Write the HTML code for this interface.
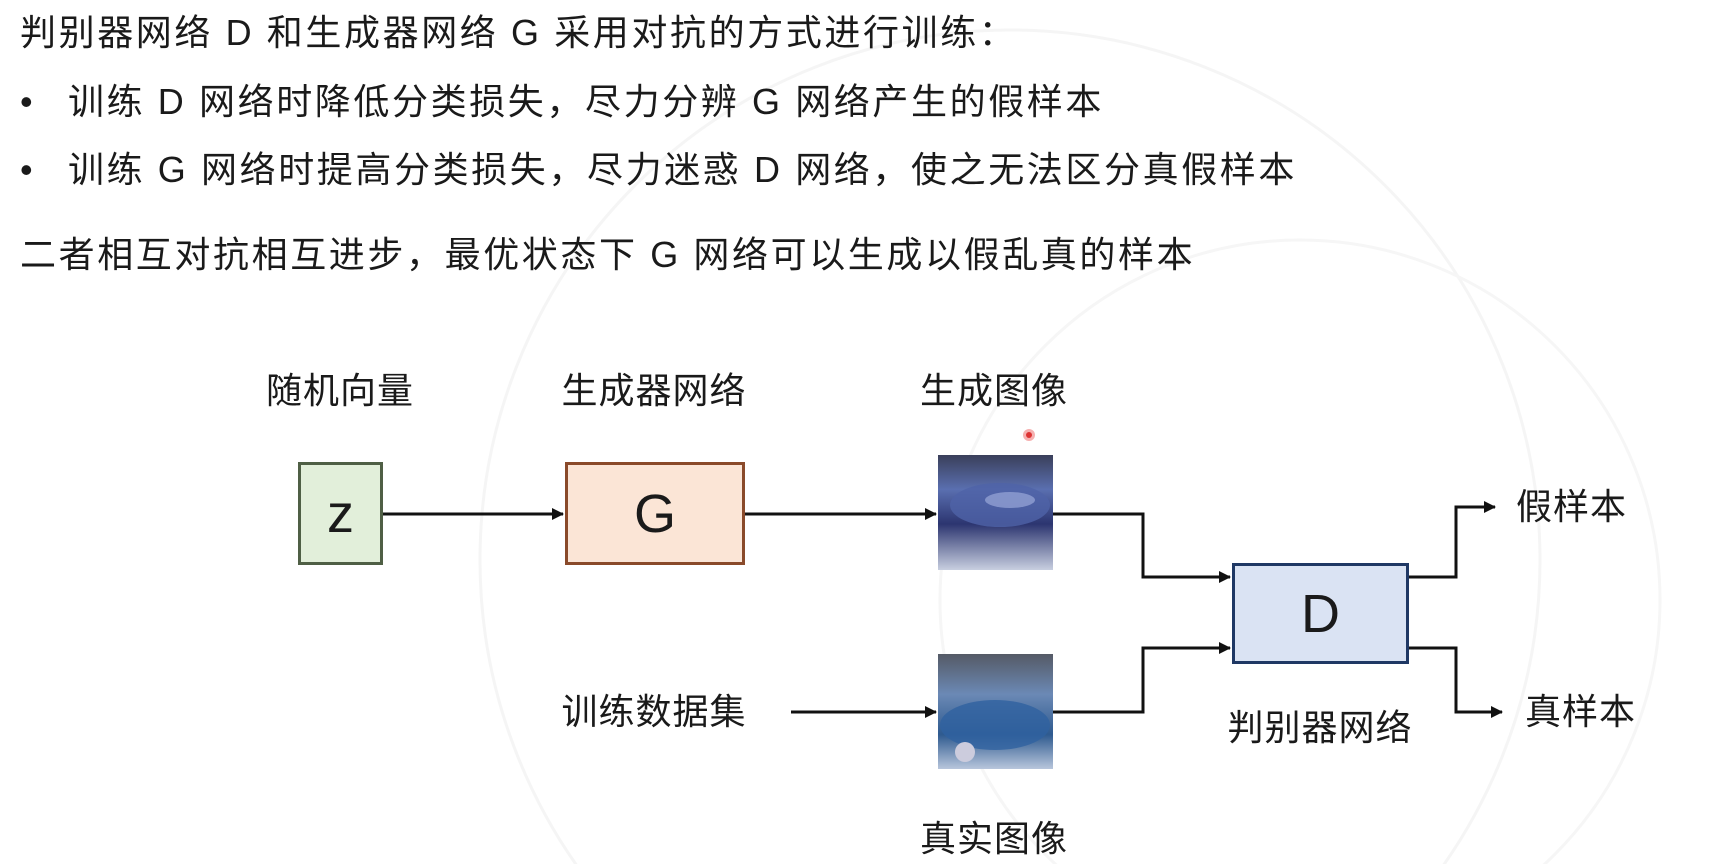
<!DOCTYPE html>
<html><head><meta charset="utf-8">
<style>
html,body{margin:0;padding:0;}
body{width:1716px;height:864px;background:#fff;position:relative;overflow:hidden;font-family:"Liberation Sans","Noto Sans CJK SC",sans-serif;color:#1a1a1a;}
.t{position:absolute;font-size:36px;line-height:40px;white-space:nowrap;letter-spacing:2.6px;}
.l{position:absolute;font-size:36px;line-height:40px;white-space:nowrap;transform:translateX(-50%);letter-spacing:1px;}
.box{position:absolute;box-sizing:border-box;border:3px solid;display:flex;align-items:center;justify-content:center;font-size:54px;}
</style></head><body>
<svg width="1716" height="864" style="position:absolute;left:0;top:0;overflow:hidden">
<circle cx="1010" cy="560" r="530" fill="none" stroke="#f5f5f5" stroke-width="3"/>
<circle cx="1300" cy="600" r="360" fill="none" stroke="#f6f6f6" stroke-width="3"/>
</svg>
<div class="t" style="left:20px;top:13px">判别器网络 D 和生成器网络 G 采用对抗的方式进行训练：</div>
<div class="t" style="left:20px;top:82px">•</div>
<div class="t" style="left:68px;top:82px">训练 D 网络时降低分类损失，尽力分辨 G 网络产生的假样本</div>
<div class="t" style="left:20px;top:150px">•</div>
<div class="t" style="left:68px;top:150px">训练 G 网络时提高分类损失，尽力迷惑 D 网络，使之无法区分真假样本</div>
<div class="t" style="left:20px;top:235px">二者相互对抗相互进步，最优状态下 G 网络可以生成以假乱真的样本</div>

<div class="l" style="left:340px;top:371px">随机向量</div>
<div class="l" style="left:654px;top:371px">生成器网络</div>
<div class="l" style="left:994px;top:371px">生成图像</div>
<div class="l" style="left:654px;top:692px">训练数据集</div>
<div class="l" style="left:1320px;top:708px">判别器网络</div>
<div class="l" style="left:994px;top:819px">真实图像</div>
<div class="t" style="left:1516px;top:487px;letter-spacing:1px">假样本</div>
<div class="t" style="left:1525px;top:692px;letter-spacing:1px">真样本</div>

<div class="box" style="left:298px;top:462px;width:85px;height:103px;background:#e2efda;border-color:#4f5f45">z</div>
<div class="box" style="left:565px;top:462px;width:180px;height:103px;background:#fbe5d6;border-color:#8a4a2a">G</div>
<div class="box" style="left:1232px;top:563px;width:177px;height:101px;background:#dae3f3;border-color:#1f3864">D</div>

<svg width="1716" height="864" style="position:absolute;left:0;top:0">
<defs>
<marker id="a" markerWidth="12" markerHeight="12" refX="11" refY="6" orient="auto" markerUnits="userSpaceOnUse"><path d="M0,0 L12,6 L0,12 z" fill="#111"/></marker>
<linearGradient id="g1" x1="0" y1="0" x2="0" y2="1"><stop offset="0" stop-color="#3a3f5a"/><stop offset="0.3" stop-color="#5a6fb0"/><stop offset="0.6" stop-color="#2c3570"/><stop offset="1" stop-color="#c8cfe0"/></linearGradient>
<linearGradient id="g2" x1="0" y1="0" x2="0" y2="1"><stop offset="0" stop-color="#555a66"/><stop offset="0.35" stop-color="#6b89b5"/><stop offset="0.7" stop-color="#2e5a8f"/><stop offset="1" stop-color="#b8c6dc"/></linearGradient>
</defs>
<g stroke="#111" stroke-width="3" fill="none">
<path d="M383,514 H563" marker-end="url(#a)"/>
<path d="M745,514 H936" marker-end="url(#a)"/>
<path d="M791,712 H936" marker-end="url(#a)"/>
<path d="M1053,514 H1143 V577 H1230" marker-end="url(#a)"/>
<path d="M1053,712 H1143 V648 H1230" marker-end="url(#a)"/>
<path d="M1409,577 H1456 V507 H1495" marker-end="url(#a)"/>
<path d="M1409,648 H1456 V712 H1502" marker-end="url(#a)"/>
</g>
<rect x="938" y="455" width="115" height="115" fill="url(#g1)"/>
<ellipse cx="1000" cy="505" rx="50" ry="22" fill="#4f63a8" opacity="0.8"/>
<ellipse cx="1010" cy="500" rx="25" ry="8" fill="#9aa8d8" opacity="0.7"/>
<rect x="938" y="654" width="115" height="115" fill="url(#g2)"/>
<ellipse cx="995" cy="725" rx="55" ry="25" fill="#2f62a0" opacity="0.8"/>
<circle cx="965" cy="752" r="10" fill="#ccd" />
<circle cx="1029" cy="435" r="6" fill="#f6b0b0"/><circle cx="1029" cy="435" r="3" fill="#d33"/>
</svg>
</body></html>
